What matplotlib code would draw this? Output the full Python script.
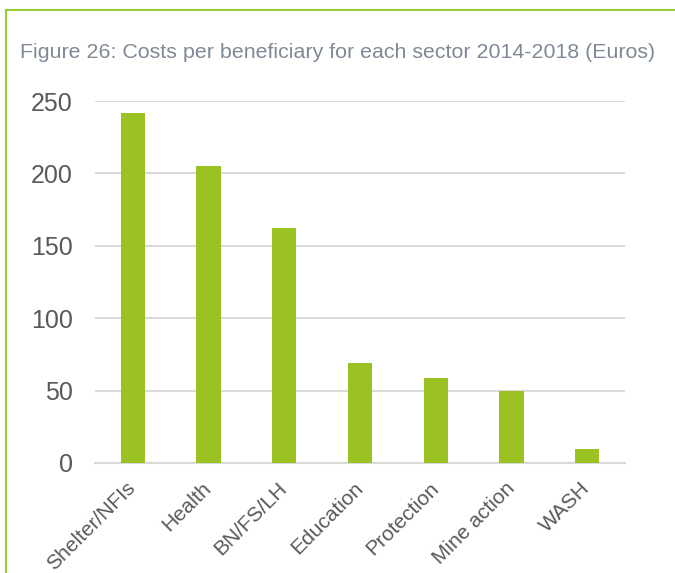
import matplotlib.pyplot as plt
from matplotlib.lines import Line2D

plt.rcParams['font.family'] = ['Liberation Sans', 'DejaVu Sans']

# donnees du graphique
secteurs = ["Shelter/NFIs", "Health", "BN/FS/LH", "Education",
            "Protection", "Mine action", "WASH"]
couts = [242, 205, 162, 69, 59, 50, 10]
graduations = [0, 50, 100, 150, 200, 250]

vert = "#99c222"

fig = plt.figure(figsize=(6.75, 5.73), dpi=100)
ax = fig.add_axes([95 / 675, 110 / 573, 530 / 675, 362 / 573])

ax.bar(range(len(secteurs)), couts, width=0.32, color=vert, zorder=3)
ax.set_xlim(-0.5, len(secteurs) - 0.5)
ax.set_ylim(0, 250)
ax.set_yticks(graduations)
ax.set_yticklabels([str(g) for g in graduations], fontsize=18, color="#595959")
ax.set_xticks(range(len(secteurs)))
ax.set_xticklabels(secteurs, rotation=45, ha="right", va="center",
                   rotation_mode="anchor", fontsize=15, color="#595959")
ax.tick_params(axis="y", length=0, pad=16)
ax.tick_params(axis="x", length=0, pad=16)

# grille horizontale
ax.grid(axis="y", color="#d9d9d9", linewidth=1.5, zorder=0)
for s in ["top", "right", "left"]:
    ax.spines[s].set_visible(False)
ax.spines["bottom"].set_color("#d9d9d9")
ax.spines["bottom"].set_linewidth(1.5)

fig.text(20 / 675, 1 - 52 / 573, "Figure 26: Costs per beneficiary for each sector 2014-2018 (Euros)",
         fontsize=15.4, color="#7f8a96", va="center", ha="left")

# cadre vert (haut et gauche)
fig.add_artist(Line2D([6 / 675, 1.0], [1 - 10 / 573, 1 - 10 / 573],
                      color="#9acd32", linewidth=1.5, transform=fig.transFigure))
fig.add_artist(Line2D([6 / 675, 6 / 675], [0, 1 - 10 / 573],
                      color="#9acd32", linewidth=1.5, transform=fig.transFigure))

fig.savefig("out.png", dpi=100)
